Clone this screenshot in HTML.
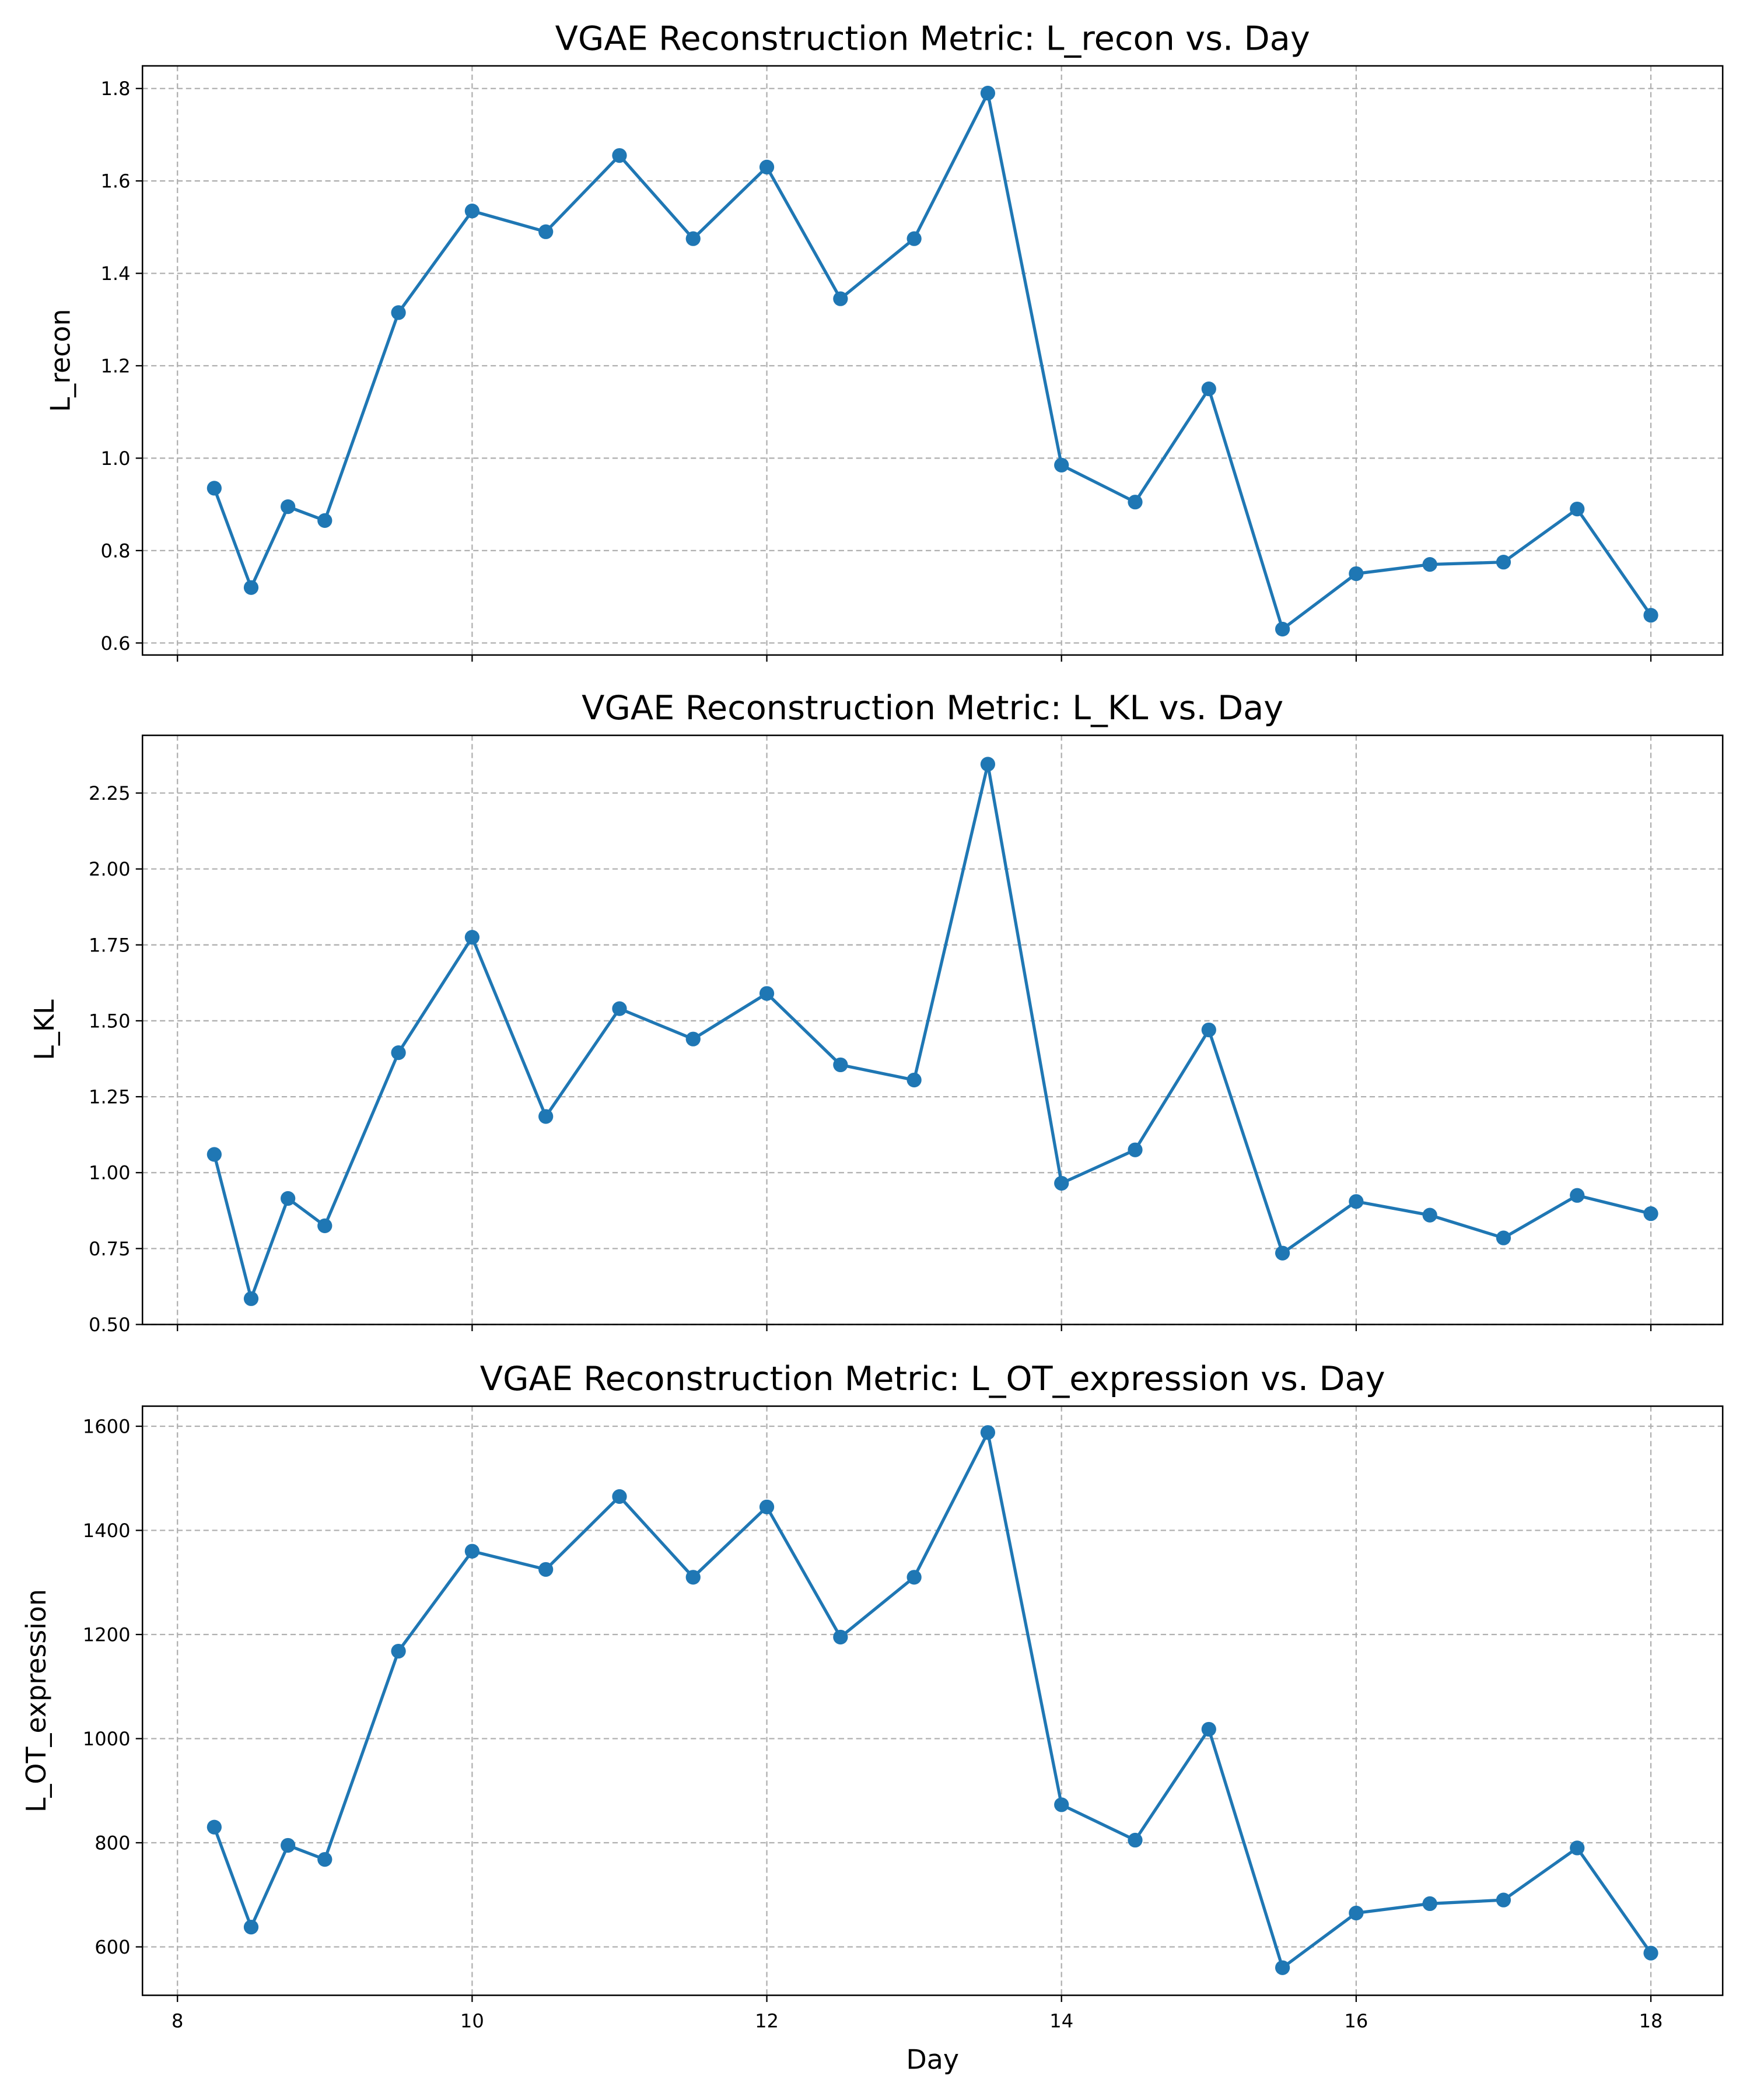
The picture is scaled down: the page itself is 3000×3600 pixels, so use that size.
<!DOCTYPE html>
<html><head><meta charset="utf-8"><style>
html,body{margin:0;padding:0;background:#fff;}
svg{display:block;font-family:"DejaVu Sans","Liberation Sans",sans-serif;}
</style></head><body>
<svg id="fig" width="3000" height="3600" viewBox="0 0 1307 1568" xmlns="http://www.w3.org/2000/svg"></svg>
<script>
const days = [8.25,8.5,8.75,9,9.5,10,10.5,11,11.5,12,12.5,13,13.5,14,14.5,15,15.5,16,16.5,17,17.5,18];
const reconValues = [0.935,0.72,0.895,0.865,1.315,1.535,1.49,1.655,1.475,1.63,1.345,1.475,1.79,0.985,0.905,1.15,0.63,0.75,0.77,0.775,0.89,0.66];
const klValues = [1.06,0.585,0.915,0.825,1.395,1.775,1.185,1.54,1.44,1.59,1.355,1.305,2.345,0.965,1.075,1.47,0.735,0.905,0.86,0.785,0.925,0.865];
const otValues = [830,638,795,768,1168,1360,1325,1465,1310,1445,1195,1310,1588,873,805,1018,560,665,683,690,790,588];
const xTicks = [8,10,12,14,16,18];
const reconTicks = [0.6,0.8,1.0,1.2,1.4,1.6,1.8];
const klTicks = [0.5,0.75,1.0,1.25,1.5,1.75,2.0,2.25];
const otTicks = [600,800,1000,1200,1400,1600];

const NS = "http://www.w3.org/2000/svg";
const svg = document.getElementById('fig');
function mk(tag, attrs, parent){ const e=document.createElementNS(NS,tag); for(const k in attrs) e.setAttribute(k,attrs[k]); (parent||svg).appendChild(e); return e; }

const L=106.4, R=1286.6, xmin=7.7625, xmax=18.4875;
const xs = d => L + (d-xmin)/(xmax-xmin)*(R-L);

const panels = [
 {name:'recon', title:'VGAE Reconstruction Metric: L_recon vs. Day', ylabel:'L_recon', top:49, bot:489, ymin:0.574, ymax:1.849, vals:reconValues, ticks:reconTicks, fmt:v=>v.toFixed(1), lx:52},
 {name:'kl', title:'VGAE Reconstruction Metric: L_KL vs. Day', ylabel:'L_KL', top:549, bot:989, ymin:0.5, ymax:2.44, vals:klValues, ticks:klTicks, fmt:v=>v.toFixed(2), lx:40},
 {name:'ot', title:'VGAE Reconstruction Metric: L_OT_expression vs. Day', ylabel:'L_OT_expression', top:1050, bot:1490, ymin:507, ymax:1638.6, vals:otValues, ticks:otTicks, fmt:v=>String(v), lx:34}
];

panels.forEach((p,pi)=>{
  const g = mk('g',{});
  
  
  const ys = v => p.bot - (v-p.ymin)/(p.ymax-p.ymin)*(p.bot-p.top);
  xTicks.forEach(t=>{
    const l = mk('line',{x1:xs(t),x2:xs(t),y1:p.top,y2:p.bot,stroke:'#b0b0b0','stroke-width':1,'stroke-dasharray':'4,2.5'},g);
    
    
    mk('line',{x1:xs(t),x2:xs(t),y1:p.bot,y2:p.bot+5,stroke:'#000','stroke-width':1},g);
    if(pi===2){
      const tx = mk('text',{x:xs(t),y:p.bot+24,'text-anchor':'middle','font-size':14,fill:'#000'},g);
      tx.textContent=t;
      
      
    }
  });
  p.ticks.forEach(t=>{
    const y=ys(t);
    const l = mk('line',{x1:L,x2:R,y1:y,y2:y,stroke:'#b0b0b0','stroke-width':1,'stroke-dasharray':'4,2.5'},g);
    
    
    mk('line',{x1:L-5,x2:L,y1:y,y2:y,stroke:'#000','stroke-width':1},g);
    const tx = mk('text',{x:L-9,y:y+5,'text-anchor':'end','font-size':14,fill:'#000'},g);
    tx.textContent=p.fmt(t);
    
    
  });
  const pts = days.map((d,i)=>xs(d).toFixed(2)+','+ys(p.vals[i]).toFixed(2)).join(' ');
  const pl = mk('polyline',{points:pts,fill:'none',stroke:'#1f77b4','stroke-width':2.3},g);
  
  
  days.forEach((d,i)=>{
    const c = mk('circle',{cx:xs(d),cy:ys(p.vals[i]),r:5.5,fill:'#1f77b4'},g);
    
    
  });
  mk('rect',{x:L,y:p.top,width:R-L,height:p.bot-p.top,fill:'none',stroke:'#000','stroke-width':1.1},g);
  const tt = mk('text',{x:(L+R)/2,y:p.top-12,'text-anchor':'middle','font-size':25,fill:'#000'},g);
  tt.textContent=p.title;
  
  
  const cy=(p.top+p.bot)/2;
  const yl = mk('text',{x:p.lx,y:cy,'text-anchor':'middle','font-size':20,fill:'#000',transform:'rotate(-90 '+p.lx+' '+cy+')'},g);
  yl.textContent=p.ylabel;
  
  
});
const xl = mk('text',{x:(L+R)/2,y:1545,'text-anchor':'middle','font-size':20,fill:'#000'});
xl.textContent='Day';


</script>
</body></html>
